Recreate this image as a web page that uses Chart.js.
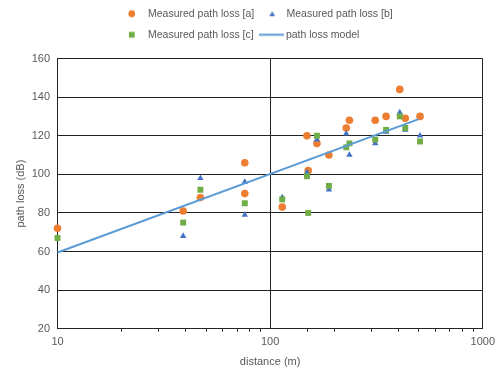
<!DOCTYPE html>
<html>
<head>
<meta charset="utf-8">
<script src="https://cdn.jsdelivr.net/npm/chart.js@4.4.1/dist/chart.umd.min.js"></script>
<style>
  html, body { margin: 0; padding: 0; background: #ffffff; }
  #wrap { width: 499px; height: 372px; }
</style>
</head>
<body>
<div id="wrap"><canvas id="chart" width="499" height="372"></canvas></div>
<script>
// ---- data ----
const seriesNames = ['Measured path loss [a]', 'Measured path loss [b]', 'Measured path loss [c]', 'path loss model'];

const distA = [10, 39, 47, 76, 76, 114, 149, 151, 166, 189, 228, 236, 312, 351, 407, 432, 507];
const lossA = [72, 81, 88, 90, 106, 83, 120, 102, 116, 110, 124, 128, 128, 130, 144, 129, 130];

const distB = [39, 47, 76, 76, 114, 149, 166, 189, 228, 236, 312, 351, 407, 432, 507];
const lossB = [68, 98, 96, 79, 88, 101, 118, 92, 121, 110, 116, 122, 132, 123, 120];

const distC = [10, 39, 47, 76, 114, 149, 151, 166, 189, 228, 236, 312, 351, 407, 432, 507];
const lossC = [67, 75, 92, 85, 87, 99, 80, 120, 94, 114, 116, 118, 123, 130, 124, 117];

const modelDist = [10, 500];
const modelLoss = [59.5, 128.6];

const xTickLabels = [10, 100, 1000];
const yTicks = [20, 40, 60, 80, 100, 120, 140, 160];

// ---- styling ----
const colA = '#ED7D31', colB = '#4472C4', colC = '#70AD47', colLine = '#5B9BD5';
const gridCol = '#222222';
const textCol = '#595959';
const FONT = "'Liberation Sans', Arial, sans-serif";

function toPoints(xs, ys) { return xs.map((x, i) => ({ x: x, y: ys[i] })); }

function makeIcon(kind, color) {
  const c = document.createElement('canvas');
  const h = 11;
  const w = kind === 'line' ? 27 : 16.5;
  c.width = Math.ceil(w); c.height = h;
  const g = c.getContext('2d');
  g.fillStyle = color; g.strokeStyle = color;
  if (kind === 'circle') {
    g.beginPath(); g.arc(5.75, 5.5, 3.4, 0, Math.PI * 2); g.fill();
  } else if (kind === 'triangle') {
    g.beginPath(); g.moveTo(7.75, 3); g.lineTo(10.6, 8); g.lineTo(4.9, 8); g.closePath(); g.fill();
  } else if (kind === 'rect') {
    g.fillRect(2.9, 2.6, 5.8, 5.8);
  } else {
    g.lineWidth = 2; g.beginPath(); g.moveTo(0, 5.5); g.lineTo(25, 5.5); g.stroke();
  }
  return c;
}
const legendIcons = [makeIcon('circle', colA), makeIcon('triangle', colB), makeIcon('rect', colC), makeIcon('line', colLine)];

const legendTweak = {
  id: 'legendTweak',
  beforeLayout(chart) {
    const lg = chart.legend;
    if (lg && !lg._tweaked) {
      const orig = lg.update;
      lg.update = function (mw, mh, m) {
        orig.call(this, Math.min(mw, 320), mh, m);
        this.height += 6.5;
      };
      lg._tweaked = true;
    }
  },
  afterLayout(chart) {
    const lg = chart.legend;
    if (lg) {
      lg.left = 115.75; lg.right = 115.75 + 320;
      lg.top = -2;
    }
  }
};

const cfg = {
  type: 'scatter',
  data: {
    datasets: [
      { label: seriesNames[0], data: toPoints(distA, lossA), pointStyle: 'circle', pointRadius: 3.8, pointHoverRadius: 3.8,
        backgroundColor: colA, borderColor: colA, pointBorderWidth: 0, order: 4, clip: false },
      { label: seriesNames[1], data: toPoints(distB, lossB), pointStyle: 'triangle', pointRadius: 3.7, pointHoverRadius: 3.7,
        backgroundColor: colB, borderColor: colB, pointBorderWidth: 0, order: 3, clip: false },
      { label: seriesNames[2], data: toPoints(distC, lossC), pointStyle: 'rect', pointRadius: 4.2, pointHoverRadius: 4.2,
        backgroundColor: colC, borderColor: colC, pointBorderWidth: 0, order: 2, clip: false },
      { label: seriesNames[3], data: toPoints(modelDist, modelLoss), showLine: true, pointRadius: 0, pointHoverRadius: 0,
        borderColor: colLine, backgroundColor: colLine, borderWidth: 2, order: 1, clip: false }
    ]
  },
  options: {
    responsive: false,
    animation: false,
    layout: { padding: { left: 0, right: 13, top: 0, bottom: 0 } },
    plugins: {
      tooltip: { enabled: false },
      legend: {
        position: 'top',
        align: 'start',
        labels: {
          usePointStyle: true,
          pointStyleWidth: 16.5,
          padding: 10.5,
          color: textCol,
          font: { family: FONT, size: 10.5 },
          sort: (a, b) => a.datasetIndex - b.datasetIndex,
          generateLabels(chart) {
            const items = Chart.defaults.plugins.legend.labels.generateLabels(chart);
            items.forEach(it => { it.pointStyle = legendIcons[it.datasetIndex]; });
            return items;
          }
        }
      }
    },
    scales: {
      x: {
        type: 'logarithmic',
        min: 10, max: 1000,
        afterFit(s) { s.height = 43.3; },
        border: { display: true, color: gridCol, width: 1 },
        grid: {
          drawTicks: true,
          tickLength: 3,
          color: c => (c.tick && xTickLabels.includes(c.tick.value)) ? gridCol : 'rgba(0,0,0,0)',
          tickColor: c => (c.tick && xTickLabels.includes(c.tick.value)) ? 'rgba(0,0,0,0)' : gridCol,
          lineWidth: 1
        },
        ticks: {
          autoSkip: false, maxRotation: 0, padding: 4,
          color: textCol, font: { family: FONT, size: 11 },
          callback: v => xTickLabels.includes(v) ? String(v) : ''
        },
        title: { display: true, text: 'distance (m)', color: textCol, font: { family: FONT, size: 11 }, padding: { top: 4, bottom: 3 } }
      },
      y: {
        min: 20, max: 160,
        afterFit(s) { s.width = 57.5; },
        afterBuildTicks(s) { s.ticks = yTicks.map(v => ({ value: v })); },
        border: { display: true, color: gridCol, width: 1 },
        grid: { drawTicks: false, color: gridCol, lineWidth: 1 },
        ticks: { padding: 7.5, color: textCol, font: { family: FONT, size: 11 } },
        title: { display: true, text: 'path loss (dB)', color: textCol, font: { family: FONT, size: 11 }, padding: { top: 14, bottom: 0 } }
      }
    }
  },
  plugins: [legendTweak]
};

new Chart(document.getElementById('chart'), cfg);
</script>
</body>
</html>
